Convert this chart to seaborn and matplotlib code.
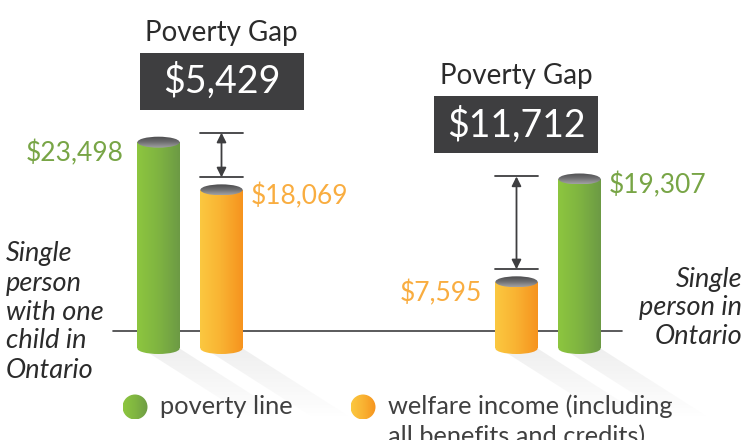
import numpy as np
import pandas as pd
import matplotlib
matplotlib.use("Agg")
import matplotlib.pyplot as plt
import seaborn as sns
from matplotlib.patches import Rectangle, Ellipse, Polygon
from matplotlib.colors import LinearSegmentedColormap

# ---------------- data ----------------
households = ["Single person with one child in Ontario", "Single person in Ontario"]
measures = ["poverty line", "welfare income (including all benefits and credits)"]
poverty_line = [23498, 19307]
welfare_income = [18069, 7595]
poverty_gap = [5429, 11712]
side_labels = ["Single\nperson\nwith one\nchild in\nOntario", "Single\nperson in\nOntario"]
legend_labels = [["poverty line"], ["welfare income (including", "all benefits and credits)"]]
bar_orders = [[measures[0], measures[1]], [measures[1], measures[0]]]

df = pd.DataFrame({
    "household": households * 2,
    "measure": [measures[0]] * 2 + [measures[1]] * 2,
    "amount": poverty_line + welfare_income,
})

# ---------------- style ----------------
sns.set_style("white")
plt.rcParams["font.family"] = ["Lato", "DejaVu Sans"]

GREEN = "#78a546"
ORANGE = "#f9ad40"
DARK = "#3e3e40"
palette = {measures[0]: GREEN, measures[1]: ORANGE}
cmaps = {
    measures[0]: LinearSegmentedColormap.from_list("g", ["#8dc63f", "#7fb441", "#6c9a45"]),
    measures[1]: LinearSegmentedColormap.from_list("o", ["#fbc840", "#f9b232", "#f6931e"]),
}
top_cmap = LinearSegmentedColormap.from_list("t", ["#4a4a4c", "#6e6e70", "#a2a2a4"])

W, H = 746, 440
fig = plt.figure(figsize=(W / 100, H / 100), dpi=100)
ax = fig.add_axes([0, 0, 1, 1])

DX = 1 / 358.0      # data units per pixel (x)
DY = 113.9          # data units per pixel (y)
X0, Y0 = 190.0, 348.5
XLIM = (-X0 * DX, (W - X0) * DX)
YLIM = (-(H - Y0) * DY, Y0 * DY)


def px(x, y):
    return (x - X0) * DX, (Y0 - y) * DY


for i, hh in enumerate(households):
    sub = df[df["household"] == hh]
    sns.barplot(data=sub, x="household", y="amount", hue="measure",
                order=households, hue_order=bar_orders[i], palette=palette,
                saturation=1, width=0.352, gap=0.33, legend=False, ax=ax, zorder=3)

ax.set_xlim(*XLIM)
ax.set_ylim(*YLIM)
ax.set_autoscale_on(False)
ax.axis("off")

# baseline
bl_y = px(0, 331)[1]
ax.plot([px(113, 0)[0], px(622, 0)[0]], [bl_y, bl_y], color=DARK, lw=1.2, zorder=2)

EH = 11 * DY  # ellipse height (data)
grad = np.linspace(0, 1, 256).reshape(1, -1)

bars = [p for p in ax.patches if isinstance(p, Rectangle) and p.get_height() > 0]
info = []
for p in bars:
    x0, w, h = p.get_x(), p.get_width(), p.get_height()
    row = df.iloc[(df["amount"] - h).abs().argmin()]
    info.append((x0, w, h, row["measure"]))
    p.set_facecolor("none")
    p.set_edgecolor("none")

for x0, w, h, m in info:
    xc = x0 + w / 2
    # shadow
    sdx, sdy = 110 * DX, 70 * DY
    shadow = Polygon([(x0 + w * 0.1, 0), (x0 + w, 0), (x0 + w + sdx, -sdy), (x0 + w * 0.1 + sdx, -sdy)],
                     closed=True, facecolor="none", edgecolor="none")
    ax.add_patch(shadow)
    n = 64
    a = np.linspace(0.17, 0.0, n).reshape(-1, 1) * np.ones((1, n))
    rgba = np.zeros((n, n, 4))
    rgba[..., :3] = 0.62
    rgba[..., 3] = a
    im = ax.imshow(rgba, extent=(x0, x0 + w + sdx, -sdy, 0), origin="upper",
                   aspect="auto", zorder=1, interpolation="bilinear")
    im.set_clip_path(shadow)
    # body
    body = Rectangle((x0, 0), w, h, facecolor="none", edgecolor="none")
    ax.add_patch(body)
    im = ax.imshow(grad, extent=(x0, x0 + w, 0, h), cmap=cmaps[m], aspect="auto", zorder=3)
    im.set_clip_path(body)
    bot = Ellipse((xc, 0), w, EH, facecolor="none", edgecolor="none")
    ax.add_patch(bot)
    im = ax.imshow(grad, extent=(x0, x0 + w, -EH, 0), cmap=cmaps[m], aspect="auto", zorder=3)
    im.set_clip_path(bot)
    top = Ellipse((xc, h), w, EH, facecolor="none", edgecolor="none")
    ax.add_patch(top)
    im = ax.imshow(np.linspace(0, 1, 64).reshape(-1, 1), extent=(x0, x0 + w, h - EH / 2, h + EH / 2),
                   cmap=top_cmap, aspect="auto", zorder=4, origin="upper")
    im.set_clip_path(top)

# value labels
lab_kw = dict(fontsize=19, fontweight="normal", va="center", zorder=5)
for i in range(2):
    grp = [(x0, w, h, m) for (x0, w, h, m) in info if abs((x0 + w / 2) - i) < 0.3]
    grp.sort(key=lambda t: t[0])
    for j, (x0, w, h, m) in enumerate(grp):
        col = GREEN if m == measures[0] else ORANGE
        if j == 0:
            ax.annotate(f"${h:,.0f}", (x0, h - 1.0 * EH), xytext=(-10, 0), textcoords="offset points",
                        ha="right", color=col, **lab_kw)
        else:
            ax.annotate(f"${h:,.0f}", (x0 + w, h - 0.6 * EH), xytext=(6, 0), textcoords="offset points",
                        ha="left", color=col, **lab_kw)
    # gap arrow on the welfare bar
    wb = [t for t in grp if t[3] == measures[1]][0]
    pb = [t for t in grp if t[3] == measures[0]][0]
    xw0, ww, hw, _ = wb
    xc = xw0 + ww / 2
    up = pb[2] + EH / 2 + (4 if i == 0 else -3) * DY
    lo = hw + EH / 2 + 7 * DY
    ax.plot([xw0, xw0 + ww], [up, up], color=DARK, lw=1.3, zorder=5)
    ax.plot([xw0, xw0 + ww], [lo, lo], color=DARK, lw=1.3, zorder=5)
    ax.annotate("", xy=(xc, up), xytext=(xc, lo),
                arrowprops=dict(arrowstyle="<|-|>", color=DARK, lw=1.3, mutation_scale=14,
                                shrinkA=0, shrinkB=0), zorder=5)
    # gap box
    bw, bh = 164 * DX, 57 * DY
    bbot = up + 23 * DY
    ax.add_patch(Rectangle((xc - bw / 2, bbot), bw, bh, facecolor=DARK, edgecolor="none", zorder=5))
    ax.text(xc, bbot + bh / 2, f"${poverty_gap[i]:,}", color="white", fontsize=27,
            fontweight="normal", ha="center", va="center", zorder=6)
    ax.text(xc, bbot + bh + 20 * DY, "Poverty Gap", color="#2b2b2b", fontsize=20,
            fontweight="normal", ha="center", va="center", zorder=6)

# side labels
ax.text(*px(6, 312), side_labels[0], fontsize=19.5, style="italic", fontweight="normal",
        color="#2b2b2b", ha="left", va="center", linespacing=1.2)
ax.text(*px(742, 308), side_labels[1], fontsize=19.5, style="italic", fontweight="normal",
        color="#2b2b2b", ha="right", va="center", linespacing=1.2)

# legend
for cx, m, lines in [(135, measures[0], legend_labels[0]), (363, measures[1], legend_labels[1])]:
    c = px(cx, 407)
    r = 12.5
    circ = Ellipse(c, 2 * r * DX, 2 * r * DY, facecolor="none", edgecolor="none")
    ax.add_patch(circ)
    im = ax.imshow(grad, extent=(c[0] - r * DX, c[0] + r * DX, c[1] - r * DY, c[1] + r * DY),
                   cmap=cmaps[m], aspect="auto", zorder=5)
    im.set_clip_path(circ)
    for k, line in enumerate(lines):
        ax.text(*px(cx + 25, 406 + 31 * k), line, fontsize=18.3, fontweight="normal",
                color="#404040", ha="left", va="center")

ax.set_xlim(*XLIM)
ax.set_ylim(*YLIM)
fig.savefig("out.png", dpi=100)
